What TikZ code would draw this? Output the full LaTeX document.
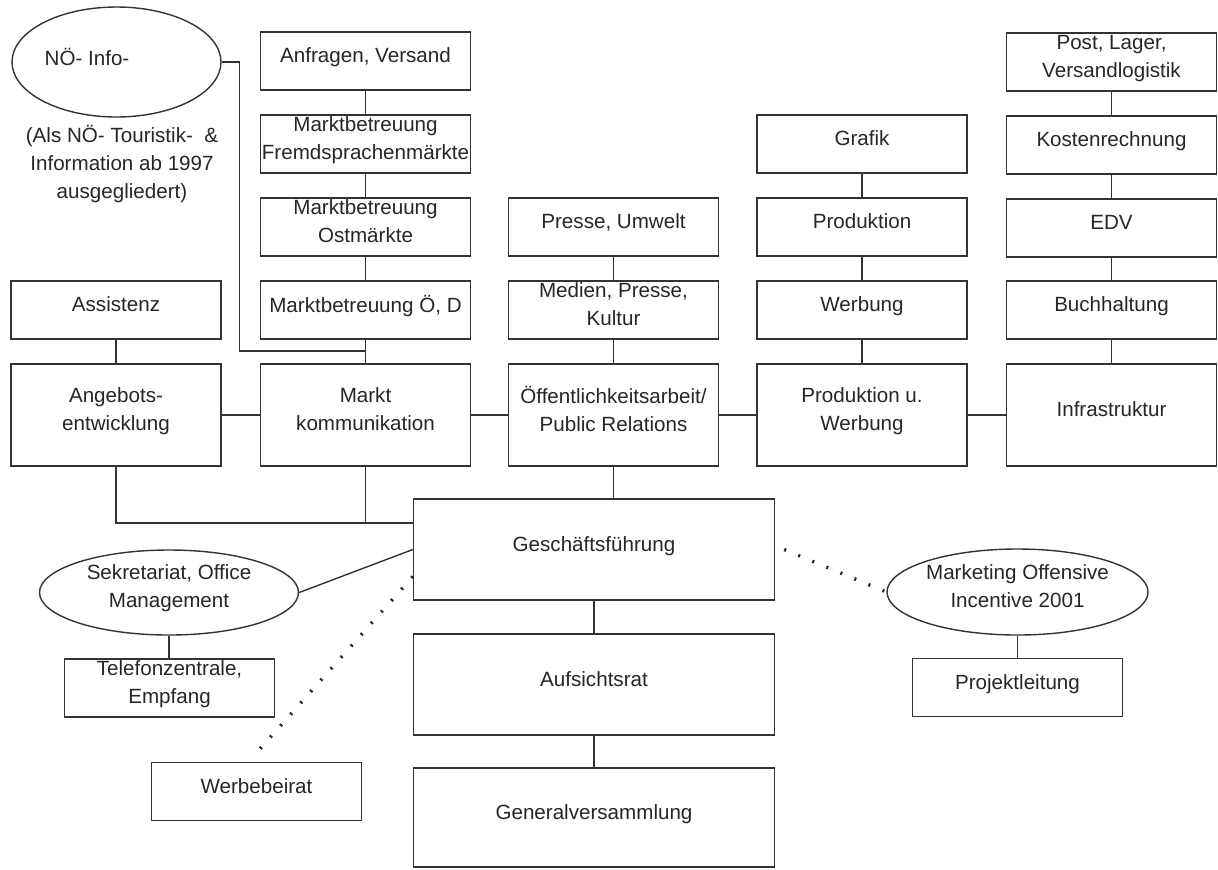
\documentclass[tikz,border=0pt]{standalone}
\usepackage{fontspec}
\setmainfont{Liberation Sans}
\usetikzlibrary{shapes.geometric}
\tikzset{
  unit/.style={draw=black!80, line width=0.7pt, text=black!85, minimum width=105pt,
    minimum height=29pt, inner sep=0pt, align=center, text depth=5.8pt,
    font=\fontsize{10.3}{14}\selectfont},
  dept/.style={unit, minimum height=51pt},
  board/.style={unit, minimum width=180.5pt, minimum height=50.5pt},
  oval/.style={unit, ellipse, text depth=6pt},
  link/.style={draw=black!80, line width=0.7pt},
  dotlink/.style={draw=black!85, line width=1.7pt, dash pattern=on 1pt off 6.6pt}
}
\begin{document}
\begin{tikzpicture}[x=0.5pt, y=-0.5pt]
  \useasboundingbox (0,0) rectangle (1218,869);
  % left: NOe-Info and Assistenz
  \node[oval, minimum width=104.5pt, minimum height=55pt] (noe) at (116.5,62) {};
  \node[text=black!85, font=\fontsize{10.3}{14}\selectfont] (noetext) at (87,57) {NÖ- Info-};
  \node[text=black!85, font=\fontsize{10.3}{14}\selectfont, align=center] (noenote) at (122,164)
    {(Als NÖ- Touristik-\ \ \&\\Information ab 1997\\ausgegliedert)};
  \node[unit] (assist) at (116,310) {Assistenz};
  % columns above the departments
  \node[unit] (anf) at (365.5,61) {Anfragen, Versand};
  \node[unit] (fremd) at (365.5,144) {Marktbetreuung\\Fremdsprachenmärkte};
  \node[unit] (ost) at (365.5,227) {Marktbetreuung\\Ostmärkte};
  \node[unit] (oed) at (365.5,310) {Marktbetreuung Ö, D};
  \node[unit] (presse) at (613.5,227) {Presse, Umwelt};
  \node[unit] (medien) at (613.5,310) {Medien, Presse,\\Kultur};
  \node[unit] (grafik) at (862,144) {Grafik};
  \node[unit] (prod) at (862,227) {Produktion};
  \node[unit] (werb) at (862,310) {Werbung};
  \node[unit] (post) at (1111.5,62) {Post, Lager,\\Versandlogistik};
  \node[unit] (kosten) at (1111.5,145) {Kostenrechnung};
  \node[unit] (edv) at (1111.5,228) {EDV};
  \node[unit] (buch) at (1111.5,310) {Buchhaltung};
  % departments
  \node[dept] (angebot) at (116,415) {Angebots-\\entwicklung};
  \node[dept] (mkom) at (365.5,415) {Markt\\kommunikation};
  \node[dept] (oeff) at (613.5,415) {Öffentlichkeitsarbeit/\\Public Relations};
  \node[dept] (prodwerb) at (862,415) {Produktion u.\\Werbung};
  \node[dept] (infra) at (1111.5,415) {Infrastruktur};
  % management
  \node[board] (gf) at (594,549.5) {Geschäftsführung};
  \node[board] (aufs) at (594,684.5) {Aufsichtsrat};
  \node[board, minimum height=49.5pt] (gv) at (594,817.5) {Generalversammlung};
  \node[oval, minimum width=129.5pt, minimum height=42.5pt] (sek) at (169,592.5) {Sekretariat, Office\\Management};
  \node[unit] (tel) at (169.5,688) {Telefonzentrale,\\Empfang};
  \node[unit] (wbr) at (256.5,791.5) {Werbebeirat};
  \node[oval, minimum width=130.5pt, minimum height=43pt] (mkt) at (1017.5,592) {Marketing Offensive\\Incentive 2001};
  \node[unit] (proj) at (1017.5,687.5) {Projektleitung};

  \coordinate (noejoin) at (365.5,351);
  \coordinate (bus) at (gf.west |- 0,523);

  \foreach \a/\b in {anf/fremd, fremd/ost, ost/oed, oed/mkom, assist/angebot,
      presse/medien, medien/oeff, grafik/prod, prod/werb, werb/prodwerb,
      post/kosten, kosten/edv, edv/buch, buch/infra,
      angebot/mkom, mkom/oeff, oeff/prodwerb, prodwerb/infra,
      gf/aufs, aufs/gv, mkt/proj}
    \draw[link] (\a) -- (\b);
  \draw[link] (sek.south) -- (sek.south |- tel.north);
  \draw[link] (noe.east) -- ++(18,0) |- (noejoin);
  \draw[link] (angebot.south) |- (bus);
  \draw[link] (mkom.south) -- (mkom.south |- bus);
  \draw[link] (oeff.south) -- (oeff.south |- gf.north);
  \draw[link] (sek.east) -- (gf.west);
  \draw[dotlink] ([yshift=-13.5pt]gf.west) -- ([yshift=4.5pt]wbr.north);
  \draw[dotlink] ([xshift=4.5pt]gf.east) -- (mkt.west);
\end{tikzpicture}
\end{document}
